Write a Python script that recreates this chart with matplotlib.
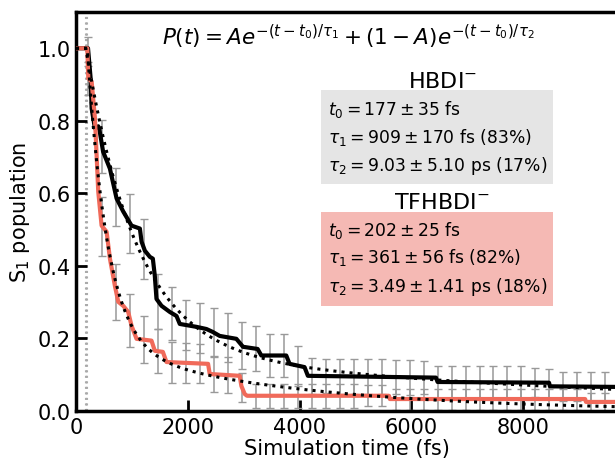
import numpy as np
import matplotlib
matplotlib.use("Agg")
import matplotlib.pyplot as plt
from matplotlib.patches import Rectangle

plt.rcParams['font.family'] = ['DejaVu Sans']
plt.rcParams['mathtext.fontset'] = 'dejavusans'

# HBDI- population trace (fs, fraction)
t_hbdi = [0, 215, 262, 280, 339, 398, 420, 485, 607, 726, 845, 994, 1143, 1173, 1232,
          1321, 1375, 1410, 1440, 1530, 1679, 1798, 1857, 2155, 2334, 2446, 2571,
          2869, 2988, 3250, 3316, 3762, 3821, 4089, 4149, 6441, 6470, 8464, 8480, 10000]
p_hbdi = [1.0, 1.0, 0.917, 0.834, 0.779, 0.785, 0.775, 0.715, 0.668, 0.586, 0.55, 0.511,
          0.503, 0.467, 0.442, 0.425, 0.42, 0.373, 0.309, 0.29, 0.273, 0.262, 0.24,
          0.232, 0.226, 0.218, 0.207, 0.199, 0.177, 0.171, 0.153, 0.153, 0.130, 0.121,
          0.097, 0.092, 0.080, 0.078, 0.068, 0.066]

# TFHBDI- population trace
t_tf = [0, 202, 220, 280, 339, 398, 458, 548, 607, 696, 756, 845, 934, 994, 1083, 1351,
        1410, 1554, 1619, 2363, 2393, 2929, 2959, 3018, 3060, 5600, 5615, 9110, 9125, 10000]
p_tf = [1.0, 1.0, 0.917, 0.908, 0.807, 0.605, 0.511, 0.494, 0.42, 0.345, 0.301, 0.29,
        0.273, 0.235, 0.199, 0.194, 0.166, 0.163, 0.135, 0.13, 0.102, 0.097, 0.069,
        0.047, 0.042, 0.042, 0.033, 0.033, 0.025, 0.025]

# error bar sample times and half widths
t_err = np.arange(220, 9600, 250)
err_hbdi = [0.040, 0.073, 0.081, 0.082, 0.082, 0.076, 0.073, 0.070, 0.069, 0.068, 0.067,
            0.064, 0.062, 0.059, 0.059, 0.055, 0.049, 0.048, 0.048, 0.048, 0.048, 0.048,
            0.048, 0.048, 0.045, 0.045, 0.045, 0.045, 0.045, 0.045, 0.045, 0.045, 0.041,
            0.041, 0.041, 0.041, 0.041, 0.041]
err_tf = [0.045, 0.082, 0.077, 0.073, 0.065, 0.061, 0.056, 0.055, 0.055, 0.050, 0.049,
          0.041, 0.033, 0.033, 0.033, 0.033, 0.033, 0.033, 0.033, 0.033, 0.029, 0.029,
          0.029, 0.029, 0.029, 0.029, 0.029, 0.029, 0.029, 0.029, 0.029, 0.029, 0.029,
          0.029, 0.029, 0.029, 0.026, 0.026]

# fitted parameters (t0, tau1, tau2, A)
fit_hbdi = (177, 909, 9030, 0.83)
fit_tf = (202, 361, 3490, 0.82)

red = '#f06a5a'

fig = plt.figure(figsize=(6.15, 4.6), dpi=100)
ax = fig.add_axes([76/615, 48/460, 541/615, 399/460])


def biexp(t, t0, tau1, tau2, A):
    dt = np.clip(t - t0, 0, None)
    return A*np.exp(-dt/tau1) + (1-A)*np.exp(-dt/tau2)


for f in (fit_hbdi, fit_tf):
    ax.axvline(f[0], color='#aaaaaa', ls=':', lw=1.5, zorder=1)

for t, p, e in ((t_hbdi, p_hbdi, err_hbdi), (t_tf, p_tf, err_tf)):
    ax.errorbar(t_err, np.interp(t_err, t, p), yerr=e, fmt='none', ecolor='#999999',
                elinewidth=1.1, capsize=3, capthick=1, zorder=2)

ax.plot(t_hbdi, p_hbdi, color='black', lw=3, zorder=3)
ax.plot(t_tf, p_tf, color=red, lw=3, zorder=3)

tt = np.linspace(0, 10000, 1000)
ax.plot(tt, biexp(tt, *fit_hbdi), color='black', ls=':', lw=2.2, zorder=4)
ax.plot(tt, biexp(tt, *fit_tf), color='black', ls=':', lw=2.2, zorder=4)

ax.set_xlim(0, 9680)
ax.set_ylim(0, 1.1)
ax.set_xticks([0, 2000, 4000, 6000, 8000])
ax.set_yticks([0.0, 0.2, 0.4, 0.6, 0.8, 1.0])
ax.tick_params(direction='in', length=8, width=2, labelsize=15, pad=4)
for s in ax.spines.values():
    s.set_linewidth(2.5)
ax.set_xlabel('Simulation time (fs)', fontsize=15, labelpad=1)
ax.set_ylabel('S$_1$ population', fontsize=15, labelpad=4)

ax.text(0.504, 0.94, r'$P(t) = Ae^{-(t-t_0)/\tau_1} + (1-A)e^{-(t-t_0)/\tau_2}$',
        transform=ax.transAxes, ha='center', va='center', fontsize=15.5)

boxes = [
    ('HBDI$^{-}$', '#e5e5e5', 0.569, 0.827,
     [r'$t_0 = 177 \pm 35$ fs', r'$\tau_1 = 909 \pm 170$ fs (83%)',
      r'$\tau_2 = 9.03 \pm 5.10$ ps (17%)'], [0.757, 0.687, 0.617]),
    ('TFHBDI$^{-}$', '#f5b9b4', 0.263, 0.524,
     [r'$t_0 = 202 \pm 25$ fs', r'$\tau_1 = 361 \pm 56$ fs (82%)',
      r'$\tau_2 = 3.49 \pm 1.41$ ps (18%)'], [0.454, 0.386, 0.313]),
]
for title, col, y0, ty, lines, ys in boxes:
    ax.add_patch(Rectangle((0.453, y0), 0.429, 0.235, transform=ax.transAxes,
                           facecolor=col, edgecolor='none', zorder=0))
    ax.text(0.677, ty, title, transform=ax.transAxes, ha='center', va='center', fontsize=16)
    for s, y in zip(lines, ys):
        ax.text(0.466, y, s, transform=ax.transAxes, ha='left', va='center', fontsize=12.3)

fig.savefig('out.png', dpi=100)
